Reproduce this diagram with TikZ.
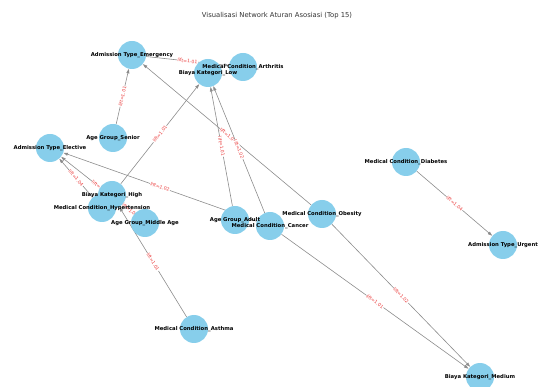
\documentclass[tikz,border=0pt]{standalone}
\usepackage{fontspec}
\setmainfont{DejaVu Sans}
\usepackage{xcolor}
\usetikzlibrary{arrows.meta, backgrounds}
\definecolor{nodeblue}{RGB}{135, 206, 235}
\definecolor{edgegray}{RGB}{140, 140, 140}
\definecolor{liftred}{RGB}{235, 60, 60}

\begin{document}
\begin{tikzpicture}[
    x=1pt, y=-1pt,
    item/.style={
        circle, fill=nodeblue, minimum size=28pt, inner sep=0pt
    },
    txt/.style={
        font=\fontsize{5.3}{6}\selectfont\bfseries, inner sep=0pt
    },
    rule/.style={
        -{Stealth[length=4.5pt, width=3pt, inset=0pt]}, draw=edgegray, line width=0.6pt
    },
    lift/.style={
        midway, sloped, fill=white, inner sep=0.4pt, text=liftred,
        font=\fontsize{4.6}{5}\selectfont
    }
]
\useasboundingbox (0, 0) rectangle (541, 387);

% Title
\node[font=\fontsize{6.8}{8}\selectfont, text=black!80] (title) at (277, 16) {Visualisasi Network Aturan Asosiasi (Top 15)};

% Items
\node[item] (emergency) at (132, 55) {};
\node[item] (low) at (208, 73) {};
\node[item] (arthritis) at (243, 67) {};
\node[item] (senior) at (113, 138) {};
\node[item] (elective) at (50, 148) {};
\node[item] (high) at (112, 195) {};
\node[item] (hyper) at (102, 208) {};
\node[item] (middle) at (145, 223) {};
\node[item] (adult) at (235, 220) {};
\node[item] (cancer) at (270, 226) {};
\node[item] (obesity) at (322, 214) {};
\node[item] (diabetes) at (406, 162) {};
\node[item] (urgent) at (503, 245) {};
\node[item] (asthma) at (194, 329) {};
\node[item] (medium) at (480, 377) {};

% Item labels
\node[txt] (emergency_t) at (emergency) {Admission Type\_Emergency};
\node[txt] (low_t) at (low) {Biaya Kategori\_Low};
\node[txt] (arthritis_t) at (arthritis) {Medical Condition\_Arthritis};
\node[txt] (senior_t) at (senior) {Age Group\_Senior};
\node[txt] (elective_t) at (elective) {Admission Type\_Elective};
\node[txt] (high_t) at (high) {Biaya Kategori\_High};
\node[txt] (hyper_t) at (hyper) {Medical Condition\_Hypertension};
\node[txt] (middle_t) at (middle) {Age Group\_Middle Age};
\node[txt] (adult_t) at (adult) {Age Group\_Adult};
\node[txt] (cancer_t) at (cancer) {Medical Condition\_Cancer};
\node[txt] (obesity_t) at (obesity) {Medical Condition\_Obesity};
\node[txt] (diabetes_t) at (diabetes) {Medical Condition\_Diabetes};
\node[txt] (urgent_t) at (urgent) {Admission Type\_Urgent};
\node[txt] (asthma_t) at (asthma) {Medical Condition\_Asthma};
\node[txt] (medium_t) at (medium) {Biaya Kategori\_Medium};

% Rules
\begin{scope}[on background layer]
\draw[rule] (senior) -- node[lift] {lift=1.01} (emergency);
\draw[rule] (emergency) -- node[lift] {lift=1.01} (arthritis);
\draw[rule] (high) -- node[lift] {lift=1.01} (low);
\draw[rule] (obesity) -- node[lift] {lift=1.0} (emergency);
\draw[rule] (adult) -- node[lift] {lift=1.01} (low);
\draw[rule] (cancer) -- node[lift] {lift=1.02} (low);
\draw[rule] (cancer) -- node[lift] {lift=1.02} (elective);
\draw[rule] (hyper) -- node[lift] {lift=1.04} (elective);
\draw[rule] (middle) -- node[lift] {lift=1} (elective);
\draw[rule] (middle) -- node[lift] {lift=1.0} (high);
\draw[rule] (asthma) -- node[lift] {lift=1.01} (high);
\draw[rule] (diabetes) -- node[lift] {lift=1.04} (urgent);
\draw[rule] (obesity) -- node[lift] {lift=1.02} (medium);
\draw[rule] (cancer) -- node[lift] {lift=1.01} (medium);
\end{scope}

\end{tikzpicture}
\end{document}
